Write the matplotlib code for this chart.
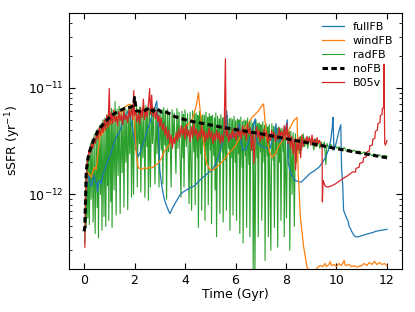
import numpy as np
import matplotlib
matplotlib.use('Agg')
import matplotlib.pyplot as plt
from matplotlib.ticker import NullFormatter

# sSFR values in units of 1e-12 / yr, time in Gyr

nofb = [(0.0, 0.45), (0.03, 0.49), (0.09, 1.68), (0.16, 2.2), (0.29, 2.87), (0.55, 3.96),
        (0.82, 4.74), (1.08, 5.47), (1.35, 6.0), (1.61, 6.4), (1.87, 6.6), (1.97, 6.8),
        (2.0, 8.1), (2.07, 6.1), (2.27, 5.9), (2.4, 6.1), (2.6, 6.5), (2.73, 6.0),
        (2.87, 6.4), (3.07, 5.9), (3.2, 6.0), (3.6, 5.35), (4.1, 4.92), (4.8, 4.57),
        (5.45, 4.26), (6.0, 4.05), (7.0, 3.7), (8.0, 3.33), (9.0, 3.0), (10.0, 2.68),
        (11.0, 2.43), (12.0, 2.2)]

fullfb = [(0.05, 0.79), (0.1, 1.1), (0.15, 1.4), (0.2, 1.5), (0.25, 1.25), (0.3, 1.2),
          (0.35, 1.4), (0.4, 1.5), (0.45, 1.3), (0.5, 1.27), (0.53, 1.05), (0.57, 1.3),
          (0.62, 1.35), (0.67, 1.25), (0.72, 1.45), (0.78, 1.6), (0.85, 1.8), (0.95, 2.08),
          (1.03, 2.3), (1.1, 2.6), (1.2, 3.1), (1.3, 3.5), (1.4, 3.8), (1.5, 4.5),
          (1.6, 5.2), (1.74, 6.0), (1.82, 5.3), (1.9, 4.4), (1.98, 3.4), (2.05, 2.8),
          (2.14, 2.25), (2.2, 2.4), (2.3, 2.8), (2.4, 3.3), (2.5, 4.0), (2.6, 4.6),
          (2.7, 5.5), (2.8, 6.5), (2.88, 7.5), (2.94, 4.3), (3.0, 1.7), (3.08, 1.2),
          (3.16, 0.94), (3.25, 0.8), (3.34, 0.71), (3.4, 0.66), (3.45, 0.7), (3.5, 0.74),
          (3.55, 0.78), (3.6, 0.82), (3.7, 0.9), (3.78, 0.97), (3.86, 1.03), (3.95, 1.06),
          (4.05, 1.1), (4.2, 1.15), (4.4, 1.21), (4.5, 1.3), (4.6, 1.37), (4.7, 1.44),
          (4.8, 1.5), (4.9, 1.58), (5.05, 1.68), (5.2, 1.9), (5.32, 2.23), (5.42, 2.7),
          (5.5, 3.2), (5.58, 4.5), (5.65, 6.1), (5.7, 3.6), (5.8, 3.3), (5.9, 3.5),
          (6.0, 3.8), (6.1, 4.2), (6.15, 4.6), (6.2, 3.2), (6.3, 2.6), (6.4, 2.6),
          (6.5, 3.0), (6.6, 3.6), (6.7, 4.4), (6.78, 5.1), (6.82, 3.2), (6.95, 2.9),
          (7.1, 2.8), (7.25, 2.7), (7.37, 2.7), (7.45, 3.2), (7.55, 3.8), (7.6, 4.6),
          (7.64, 3.3), (7.75, 3.1), (7.9, 3.6), (8.0, 4.3), (8.05, 5.0), (8.09, 1.95),
          (8.2, 1.55), (8.36, 1.35), (8.6, 1.3), (8.8, 1.45), (8.95, 1.57), (9.1, 1.65),
          (9.31, 1.8), (9.45, 2.0), (9.57, 2.23), (9.68, 2.6), (9.77, 3.2), (9.83, 4.2),
          (9.86, 5.27), (9.9, 2.6), (9.95, 2.8), (10.05, 3.5), (10.1, 3.96), (10.17, 4.5),
          (10.2, 1.8), (10.25, 1.17), (10.28, 0.71), (10.33, 0.66), (10.4, 0.6),
          (10.45, 0.57), (10.5, 0.5), (10.55, 0.48), (10.6, 0.45), (10.65, 0.43),
          (10.7, 0.41), (10.76, 0.4), (10.85, 0.4), (11.0, 0.41), (11.15, 0.42),
          (11.29, 0.43), (11.45, 0.44), (11.55, 0.45), (11.75, 0.46), (12.0, 0.47)]

windfb = [(0.05, 0.9), (0.1, 1.3), (0.15, 1.6), (0.2, 1.55), (0.29, 1.45), (0.35, 1.65),
          (0.42, 1.8), (0.48, 1.7), (0.55, 2.4), (0.6, 3.0), (0.65, 3.96), (0.7, 3.6),
          (0.8, 4.0), (0.9, 4.3), (1.0, 4.5), (1.1, 4.8), (1.2, 5.0), (1.3, 5.2),
          (1.4, 5.5), (1.5, 5.9), (1.6, 6.5), (1.7, 6.8), (1.8, 7.0), (1.9, 6.8),
          (1.97, 6.6), (2.02, 4.0), (2.07, 2.4), (2.14, 1.8), (2.2, 1.75), (2.3, 1.72),
          (2.4, 1.78), (2.5, 1.74), (2.6, 1.8), (2.7, 1.77), (2.81, 1.87), (2.93, 1.95),
          (3.05, 2.15), (3.2, 2.58), (3.4, 2.95), (3.6, 3.43), (3.8, 3.8), (4.0, 4.26),
          (4.15, 4.6), (4.26, 4.92), (4.35, 5.6), (4.46, 7.05), (4.53, 9.0), (4.6, 6.1),
          (4.66, 4.5), (4.73, 3.2), (4.8, 2.3), (4.86, 1.93), (5.0, 1.68), (5.12, 1.7),
          (5.3, 1.85), (5.45, 2.0), (5.6, 2.2), (5.71, 2.4), (5.86, 2.6), (6.0, 2.87),
          (6.2, 3.5), (6.39, 4.26), (6.55, 4.8), (6.65, 5.27), (6.8, 5.7), (6.92, 6.1),
          (7.05, 6.8), (7.11, 7.05), (7.18, 4.57), (7.25, 3.2), (7.32, 2.7), (7.38, 2.4),
          (7.45, 2.23), (7.58, 2.4), (7.7, 2.8), (7.85, 3.2), (8.0, 3.6), (8.1, 3.96),
          (8.3, 4.9), (8.44, 5.27), (8.48, 1.68), (8.57, 0.61), (8.7, 0.32), (8.83, 0.21),
          (8.95, 0.18), (9.15, 0.19), (9.25, 0.207), (9.35, 0.215), (9.45, 0.21),
          (9.55, 0.225), (9.6, 0.21), (9.7, 0.22), (9.75, 0.235), (9.8, 0.215),
          (9.9, 0.22), (10.0, 0.21), (10.1, 0.225), (10.2, 0.215), (10.3, 0.24),
          (10.35, 0.215), (10.5, 0.22), (10.6, 0.21), (10.7, 0.215), (10.8, 0.208),
          (11.0, 0.215), (11.1, 0.225), (11.2, 0.215), (11.3, 0.23), (11.4, 0.22),
          (11.5, 0.235), (11.6, 0.22), (11.7, 0.23), (11.8, 0.22), (11.9, 0.225),
          (12.0, 0.215)]

radfb = [(0.03, 0.35), (0.06, 1.5), (0.09, 0.49), (0.12, 2.2), (0.15, 0.60), (0.18, 2.6),
         (0.21, 0.52), (0.25, 3.0), (0.28, 0.9), (0.32, 3.3), (0.36, 0.55), (0.40, 3.6),
         (0.44, 0.43), (0.48, 3.9), (0.52, 0.75), (0.55, 4.1), (0.57, 0.39), (0.61, 4.4),
         (0.65, 1.0), (0.68, 4.6), (0.71, 0.46), (0.75, 5.0), (0.79, 0.62), (0.83, 5.2),
         (0.86, 0.50), (0.90, 5.6), (0.93, 1.2), (0.96, 5.4), (0.98, 0.57), (1.02, 6.0),
         (1.06, 0.85), (1.09, 6.4), (1.11, 0.49), (1.15, 6.1), (1.19, 1.1), (1.23, 7.4),
         (1.27, 0.64), (1.31, 6.3), (1.35, 1.5), (1.39, 6.7), (1.43, 0.66), (1.47, 6.0),
         (1.51, 1.6), (1.55, 6.4), (1.58, 0.76), (1.62, 6.6), (1.66, 2.0), (1.70, 6.2),
         (1.73, 0.72), (1.77, 6.5), (1.81, 2.4), (1.85, 7.0), (1.88, 0.94), (1.92, 6.3),
         (1.96, 1.0), (2.00, 6.7), (2.04, 2.6), (2.08, 6.9), (2.11, 1.17), (2.15, 6.2),
         (2.19, 3.0), (2.22, 6.6), (2.25, 1.05), (2.29, 6.0), (2.33, 2.2), (2.37, 6.5),
         (2.41, 0.94), (2.45, 6.8), (2.49, 2.8), (2.52, 6.1), (2.55, 0.88), (2.59, 6.4),
         (2.63, 1.17), (2.67, 6.9), (2.71, 3.0), (2.75, 6.2), (2.81, 1.25), (2.85, 6.6),
         (2.89, 2.4), (2.93, 6.3), (2.97, 1.17), (3.01, 6.0), (3.06, 2.6), (3.10, 6.2),
         (3.12, 1.25), (3.16, 6.5), (3.20, 2.9), (3.23, 6.1), (3.27, 0.90), (3.31, 6.3),
         (3.35, 2.5), (3.39, 5.9), (3.45, 1.17), (3.49, 6.2), (3.53, 3.0), (3.57, 5.8),
         (3.64, 1.57), (3.68, 6.4), (3.72, 2.7), (3.76, 5.9), (3.84, 0.94), (3.88, 6.0),
         (3.92, 2.2), (3.94, 5.6), (3.96, 1.17), (4.00, 6.2), (4.05, 2.8), (4.10, 5.7),
         (4.16, 0.82), (4.20, 5.9), (4.26, 0.71), (4.30, 6.1), (4.35, 2.5), (4.38, 5.7),
         (4.40, 0.80), (4.44, 5.8), (4.49, 2.2), (4.51, 5.5), (4.53, 0.49), (4.57, 6.0),
         (4.62, 2.4), (4.64, 5.4), (4.66, 0.71), (4.70, 5.6), (4.75, 2.9), (4.77, 5.5),
         (4.79, 0.57), (4.83, 5.9), (4.88, 2.0), (4.90, 5.3), (4.92, 0.80), (4.96, 5.7),
         (5.01, 2.6), (5.03, 5.4), (5.05, 0.53), (5.09, 5.5), (5.14, 2.3), (5.17, 5.2),
         (5.19, 1.1), (5.22, 5.8), (5.25, 0.40), (5.29, 5.4), (5.34, 2.0), (5.36, 5.1),
         (5.38, 0.66), (5.42, 5.6), (5.47, 2.5), (5.49, 5.2), (5.51, 0.55), (5.55, 5.3),
         (5.60, 2.1), (5.62, 5.0), (5.64, 0.71), (5.68, 5.5), (5.73, 2.7), (5.76, 5.1),
         (5.78, 0.46), (5.82, 5.2), (5.86, 2.2), (5.88, 5.0), (5.90, 0.64), (5.94, 5.4),
         (5.99, 2.0), (6.01, 4.9), (6.04, 0.57), (6.08, 5.1), (6.12, 2.4), (6.14, 5.0),
         (6.17, 0.43), (6.21, 5.3), (6.26, 1.8), (6.28, 4.8), (6.30, 0.35), (6.34, 5.0),
         (6.39, 2.3), (6.41, 4.9), (6.44, 0.49), (6.48, 5.2), (6.53, 1.9), (6.55, 4.7),
         (6.57, 0.40), (6.61, 4.9), (6.66, 2.6), (6.68, 4.6), (6.70, 0.19), (6.73, 4.8),
         (6.77, 0.19), (6.81, 5.0), (6.86, 2.2), (6.88, 4.6), (6.90, 0.40), (6.94, 4.7),
         (6.99, 2.5), (7.01, 4.5), (7.04, 0.57), (7.08, 4.8), (7.13, 2.0), (7.15, 4.4),
         (7.17, 0.24), (7.21, 4.6), (7.26, 2.3), (7.28, 4.3), (7.30, 0.40), (7.34, 4.5),
         (7.40, 0.30), (7.44, 4.6), (7.49, 2.1), (7.51, 4.3), (7.54, 0.49), (7.58, 4.4),
         (7.62, 2.4), (7.64, 4.2), (7.67, 0.32), (7.71, 4.3), (7.75, 2.0), (7.77, 4.1),
         (7.80, 0.57), (7.84, 4.2), (7.89, 2.5), (7.91, 4.0), (7.93, 0.40), (7.97, 4.1),
         (8.02, 0.60), (8.06, 4.0), (8.10, 2.2), (8.12, 3.9), (8.15, 0.30), (8.19, 3.9),
         (8.24, 1.0), (8.28, 3.8), (8.33, 0.5), (8.37, 3.7), (8.42, 2.0), (8.46, 3.6),
         (8.52, 2.4), (8.57, 3.5), (8.62, 2.6), (8.68, 3.7), (8.74, 2.8), (8.80, 3.4),
         (8.86, 2.7), (8.92, 3.5), (8.98, 2.9), (9.04, 3.3), (9.10, 2.6), (9.16, 3.3),
         (9.22, 2.8), (9.28, 3.2), (9.34, 2.7), (9.40, 3.1), (9.46, 2.8), (9.52, 3.1),
         (9.58, 1.9), (9.62, 3.0), (9.70, 2.7), (9.78, 2.95), (9.86, 2.6), (9.94, 2.9),
         (10.02, 2.7), (10.1, 2.8), (10.2, 2.6), (10.3, 2.75), (10.4, 2.55), (10.5, 2.65),
         (10.6, 2.5), (10.7, 2.6), (10.8, 2.45), (10.9, 2.55), (11.0, 2.4), (11.1, 2.5),
         (11.2, 2.35), (11.3, 2.45), (11.4, 2.3), (11.5, 2.4), (11.6, 2.28), (11.7, 2.35),
         (11.8, 2.25), (11.9, 2.32), (12.0, 2.28)]

b05v = [(0.03, 0.32), (0.06, 0.9), (0.1, 1.6), (0.15, 2.2), (0.2, 2.6), (0.25, 2.4),
        (0.3, 3.0), (0.35, 2.7), (0.4, 3.4), (0.45, 3.0), (0.5, 3.8), (0.55, 3.3),
        (0.6, 4.2), (0.65, 3.6), (0.7, 4.5), (0.75, 3.8), (0.8, 5.0), (0.85, 4.0),
        (0.9, 5.5), (0.95, 4.3), (1.0, 9.8), (1.03, 4.5), (1.08, 5.8), (1.13, 4.6),
        (1.18, 6.2), (1.23, 4.8), (1.28, 5.4), (1.33, 4.4), (1.38, 6.0), (1.43, 4.9),
        (1.48, 5.6), (1.53, 4.5), (1.58, 6.1), (1.63, 5.0), (1.68, 5.5), (1.73, 4.7),
        (1.78, 6.3), (1.83, 5.2), (1.88, 6.6), (1.93, 5.0), (1.97, 9.4), (2.0, 5.5),
        (2.05, 6.0), (2.1, 4.8), (2.15, 5.7), (2.2, 4.6), (2.25, 6.4), (2.3, 5.2),
        (2.35, 7.8), (2.4, 5.0), (2.45, 6.2), (2.5, 5.3), (2.55, 7.0), (2.6, 9.8),
        (2.63, 5.6), (2.68, 8.5), (2.72, 5.4), (2.77, 6.5), (2.82, 5.1), (2.87, 6.0),
        (2.92, 4.8), (2.97, 5.5), (3.0, 4.3), (3.05, 5.2), (3.1, 4.0), (3.15, 4.6),
        (3.2, 3.6), (3.25, 4.3), (3.3, 3.3), (3.35, 4.0), (3.4, 3.0), (3.45, 3.6),
        (3.5, 2.7), (3.55, 3.4), (3.6, 3.0), (3.65, 3.8), (3.7, 3.2), (3.75, 4.1),
        (3.8, 3.4), (3.85, 4.4), (3.9, 3.6), (3.95, 4.2), (4.0, 3.3), (4.05, 4.5),
        (4.1, 3.5), (4.15, 4.0), (4.2, 3.1), (4.25, 4.3), (4.3, 3.4), (4.35, 4.6),
        (4.4, 3.6), (4.45, 4.1), (4.5, 3.2), (4.55, 3.9), (4.6, 3.4), (4.65, 4.4),
        (4.7, 3.5), (4.75, 4.0), (4.8, 3.1), (4.85, 3.8), (4.9, 3.3), (4.95, 4.2),
        (5.0, 3.4), (5.05, 3.9), (5.1, 3.0), (5.15, 3.7), (5.2, 3.2), (5.25, 4.0),
        (5.3, 3.3), (5.35, 3.8), (5.4, 3.0), (5.45, 3.6), (5.5, 3.1), (5.55, 3.9),
        (5.6, 18.7), (5.63, 3.5), (5.68, 4.0), (5.73, 3.1), (5.78, 3.7), (5.83, 3.3),
        (5.88, 4.1), (5.93, 3.4), (5.98, 3.8), (6.03, 3.2), (6.08, 4.3), (6.13, 3.5),
        (6.18, 4.0), (6.23, 3.3), (6.28, 4.4), (6.33, 3.6), (6.38, 4.1), (6.43, 3.2),
        (6.48, 4.6), (6.53, 3.7), (6.58, 4.2), (6.63, 2.6), (6.68, 3.8), (6.73, 1.95),
        (6.78, 3.5), (6.83, 4.3), (6.88, 3.4), (6.93, 4.0), (6.98, 3.1), (7.03, 3.8),
        (7.08, 3.3), (7.13, 4.1), (7.18, 3.5), (7.23, 3.9), (7.28, 3.0), (7.33, 3.7),
        (7.38, 3.2), (7.43, 4.0), (7.48, 3.4), (7.53, 3.8), (7.58, 3.1), (7.63, 3.6),
        (7.68, 3.3), (7.73, 4.2), (7.78, 3.5), (7.83, 3.9), (7.88, 3.2), (7.93, 4.4),
        (7.98, 3.3), (8.03, 4.6), (8.08, 3.0), (8.13, 3.8), (8.18, 2.7), (8.23, 3.5),
        (8.28, 2.4), (8.33, 3.3), (8.38, 1.7), (8.43, 3.1), (8.48, 2.6), (8.53, 3.4),
        (8.58, 2.2), (8.63, 3.6), (8.68, 2.8), (8.73, 3.3), (8.78, 3.0), (8.83, 3.5),
        (8.88, 3.1), (8.93, 3.4), (8.98, 2.9), (9.03, 3.6), (9.08, 3.0), (9.13, 3.3),
        (9.18, 2.8), (9.23, 3.4), (9.28, 3.0), (9.33, 3.2), (9.38, 2.9), (9.43, 2.77),
        (9.44, 0.85), (9.47, 1.35), (9.55, 1.2), (9.64, 1.17), (9.8, 1.2), (9.97, 1.26),
        (10.24, 1.4), (10.45, 1.5), (10.63, 1.62), (10.75, 1.62), (10.77, 1.75),
        (10.9, 1.8), (10.92, 1.95), (11.05, 2.0), (11.07, 2.2), (11.18, 2.25),
        (11.2, 2.5), (11.3, 2.55), (11.32, 2.85), (11.42, 2.9), (11.44, 3.3),
        (11.52, 3.35), (11.54, 3.9), (11.62, 4.0), (11.64, 4.6), (11.72, 4.7),
        (11.74, 5.5), (11.8, 5.6), (11.82, 6.4), (11.87, 6.5), (11.88, 16.6),
        (11.91, 3.0), (11.94, 2.9), (12.0, 3.2)]

x_ticks = [0, 2, 4, 6, 8, 10, 12]
y_ticks = [1e-12, 1e-11]


def unpack(pairs):
  arr = np.array(pairs)
  return arr[:, 0], arr[:, 1] * 1e-12


plt.rcParams['font.size'] = 9

fig = plt.figure(figsize=(4.15, 3.12), dpi=100)
ax = fig.add_axes([0.166, 0.138, 0.803, 0.82])

t, v = unpack(fullfb)
ax.plot(t, v, color='tab:blue', lw=0.9, label='fullFB', zorder=2)
t, v = unpack(windfb)
ax.plot(t, v, color='tab:orange', lw=0.9, label='windFB', zorder=2)
t, v = unpack(radfb)
ax.plot(t, v, color='tab:green', lw=0.8, label='radFB', zorder=1)
t, v = unpack(nofb)
ax.plot(t, v, color='black', lw=2.2, ls=(0, (1.8, 1.1)), label='noFB', zorder=4)
t, v = unpack(b05v)
ax.plot(t, v, color='tab:red', lw=0.9, label='B05v', zorder=3)

ax.set_yscale('log')
ax.set_xlim(-0.6, 12.6)
ax.set_ylim(2e-13, 5e-11)
ax.set_xticks(x_ticks)
ax.set_yticks(y_ticks)
ax.yaxis.set_minor_formatter(NullFormatter())
ax.tick_params(which='both', direction='in', top=True, right=True)
ax.tick_params(which='major', length=4)
ax.tick_params(which='minor', length=2)
ax.set_xlabel('Time (Gyr)', labelpad=1)
ax.set_ylabel(r'sSFR (yr$^{-1}$)', fontsize=9, labelpad=4)

ax.legend(loc='upper right', frameon=False, fontsize=8, labelspacing=0.35,
          handlelength=2.0, borderaxespad=0.4)

fig.savefig('out.png', dpi=100)
